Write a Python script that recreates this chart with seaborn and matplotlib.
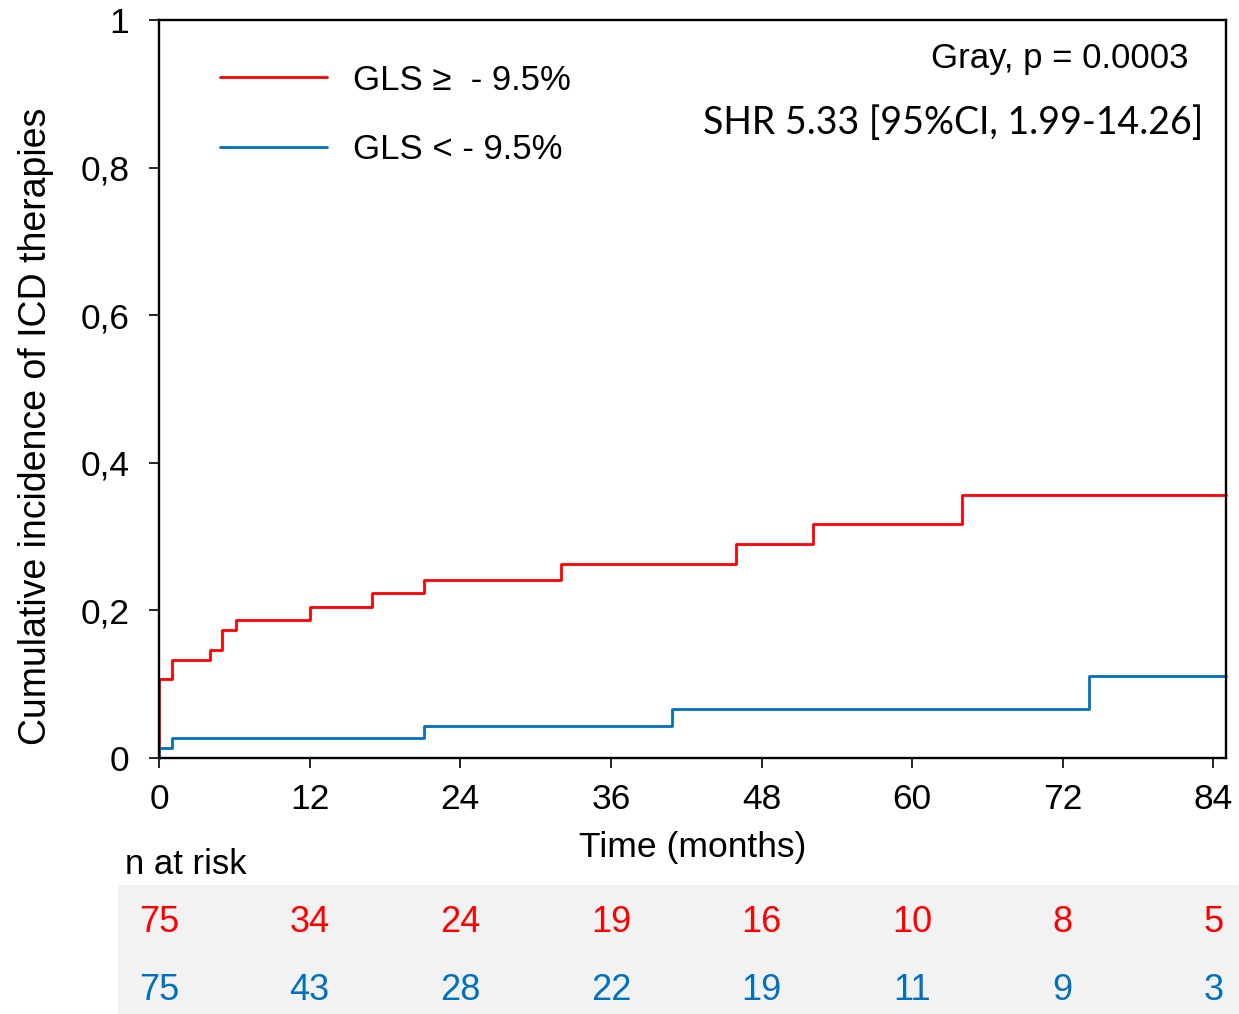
import matplotlib
matplotlib.use("Agg")
import matplotlib.pyplot as plt
import matplotlib.transforms as mtransforms
from matplotlib.patches import Rectangle
import seaborn as sns
import pandas as pd

# Cumulative incidence step data (time in months, incidence)
high_gls_time = [0, 0, 1.0, 4.1, 5.0, 6.1, 12.0, 17.0, 21.1, 32.0, 46.0, 52.1, 64.0, 85.0]
high_gls_inc = [0, 0.107, 0.133, 0.146, 0.173, 0.187, 0.205, 0.223, 0.241, 0.263, 0.290, 0.317, 0.357, 0.357]
low_gls_time = [0, 0, 1.0, 21.1, 40.9, 74.1, 85.0]
low_gls_inc = [0, 0.013, 0.027, 0.044, 0.066, 0.1115, 0.1115]

group_labels = ["GLS \u2265  - 9.5%", "GLS < - 9.5%"]
group_colors = ["#ff0000", "#0070c0"]

# Numbers at risk
risk_times = [0, 12, 24, 36, 48, 60, 72, 84]
risk_high = [75, 34, 24, 19, 16, 10, 8, 5]
risk_low = [75, 43, 28, 22, 19, 11, 9, 3]

x_ticks = [0, 12, 24, 36, 48, 60, 72, 84]
y_ticks = [0, 0.2, 0.4, 0.6, 0.8, 1.0]
y_ticklabels = ["0", "0,2", "0,4", "0,6", "0,8", "1"]

df = pd.concat([
    pd.DataFrame({"time": high_gls_time, "inc": high_gls_inc, "group": group_labels[0]}),
    pd.DataFrame({"time": low_gls_time, "inc": low_gls_inc, "group": group_labels[1]}),
], ignore_index=True)

sns.set_style("white")
plt.rcParams["font.family"] = ["Liberation Sans", "DejaVu Sans"]
plt.rcParams.update({"text.color": "black", "axes.labelcolor": "black",
                     "xtick.color": "black", "ytick.color": "black"})

fig = plt.figure(figsize=(12.39, 10.14), dpi=100)
ax = fig.add_axes([159 / 1239, 1 - 758 / 1014, (1226 - 159) / 1239, (758 - 20) / 1014])

sns.lineplot(data=df, x="time", y="inc", hue="group", hue_order=group_labels,
             palette=group_colors, estimator=None, sort=False,
             drawstyle="steps-post", linewidth=2.0, ax=ax, clip_on=False)

ax.set_xlim(0, 85)
ax.set_ylim(0, 1)
ax.set_xticks(x_ticks)
ax.set_xticklabels([str(t) for t in x_ticks])
ax.set_yticks(y_ticks)
ax.set_yticklabels(y_ticklabels)
ax.tick_params(axis="both", direction="out", length=7.5, width=1.2, color="black",
               labelcolor="black", labelsize=25.5, bottom=True, left=True)
ax.tick_params(axis="x", pad=10.5)
ax.tick_params(axis="y", pad=14)
for sp in ax.spines.values():
    sp.set_visible(True)
    sp.set_color("black")
    sp.set_linewidth(1.7)

ax.set_xlabel("Time (months)", fontsize=25.5, color="black")
ax.set_ylabel("Cumulative incidence of ICD therapies", fontsize=27, color="black")
ax.xaxis.set_label_coords(0.5, -0.099)
ax.yaxis.set_label_coords(-0.098, 0.449)

handles, labels = ax.get_legend_handles_labels()
leg = ax.legend(handles, labels, loc="upper left", bbox_to_anchor=(0.057, 0.941),
                frameon=False, fontsize=25, handlelength=3.1, handletextpad=0.75,
                labelspacing=1.05, borderpad=0, borderaxespad=0)
for txt in leg.get_texts():
    txt.set_color("black")

ax.text(0.9644, 0.9485, "Gray, p = 0.0003", transform=ax.transAxes,
        ha="right", va="center", fontsize=25, color="black")
ax.text(0.9784, 0.8605, "SHR 5.33 [95%CI, 1.99-14.26]", transform=ax.transAxes,
        ha="right", va="center", fontsize=27, color="black",
        family=["Lato", "DejaVu Sans"])

# Numbers-at-risk table below the axis
fig.patches.append(Rectangle((118 / 1239, 0), 1 - 118 / 1239, (1014 - 885) / 1014,
                             transform=fig.transFigure, facecolor="#f2f2f2",
                             edgecolor="none", zorder=-1))
fig.text(125 / 1239, 1 - 864 / 1014, "n at risk", ha="left", va="center",
         fontsize=25, color="black")
blend = mtransforms.blended_transform_factory(ax.transData, fig.transFigure)
for t, nh, nl in zip(risk_times, risk_high, risk_low):
    ax.text(t, 1 - 923 / 1014, str(nh), transform=blend, ha="center", va="center",
            fontsize=26, color=group_colors[0], clip_on=False)
    ax.text(t, 1 - 991 / 1014, str(nl), transform=blend, ha="center", va="center",
            fontsize=26, color=group_colors[1], clip_on=False)

fig.savefig("out.png", dpi=100)
